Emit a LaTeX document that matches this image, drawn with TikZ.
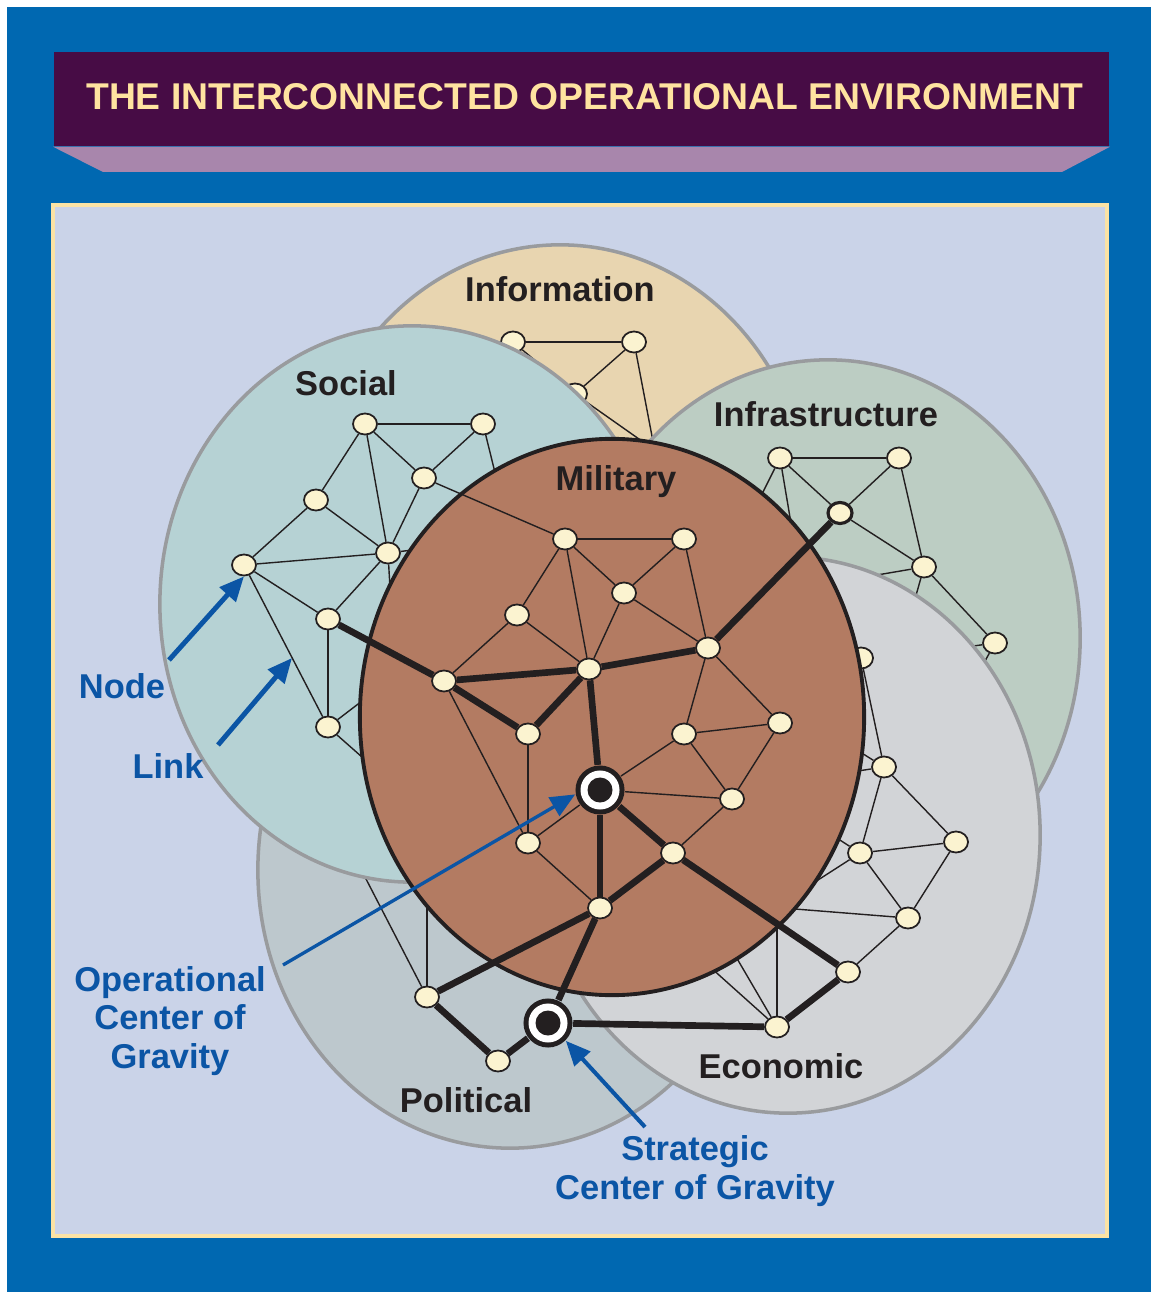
\documentclass[tikz,border=0pt]{standalone}
\usepackage{fontspec}
\setmainfont{Liberation Sans}
\usetikzlibrary{shapes.geometric,arrows.meta}

\definecolor{framebg}{HTML}{0068B1}
\definecolor{titlebg}{HTML}{470C45}
\definecolor{titleshade}{HTML}{A886AC}
\definecolor{titletext}{HTML}{FFE3A0}
\definecolor{panelbg}{HTML}{CAD3E8}
\definecolor{panelrim}{HTML}{FBE3A5}
\definecolor{infofill}{HTML}{E8D5B0}
\definecolor{socialfill}{HTML}{B6D2D4}
\definecolor{infrafill}{HTML}{BCCDC3}
\definecolor{econfill}{HTML}{D2D4D7}
\definecolor{polfill}{HTML}{BDC8CD}
\definecolor{milfill}{HTML}{B37B62}
\definecolor{dotfill}{HTML}{FBF3D0}
\definecolor{rimgray}{HTML}{999B9E}
\definecolor{callout}{HTML}{0B55A5}
\definecolor{inkdark}{HTML}{231F20}

\begin{document}
\begin{tikzpicture}[
        x=0.01cm, y=-0.01cm,
        font=\bfseries,
        realm/.style={ellipse, draw=rimgray, line width=1pt, minimum width=5.04cm, minimum height=5.56cm, inner sep=0pt},
        dot/.style={ellipse, draw=inkdark, line width=0.5pt, fill=dotfill, minimum width=0.24cm, minimum height=0.21cm, inner sep=0pt},
        cog/.style={circle, fill=inkdark, minimum size=0.49cm, inner sep=0pt,
            path picture={\fill[white] (path picture bounding box.center) circle (0.195cm);
                          \fill[inkdark] (path picture bounding box.center) circle (0.125cm);}},
        link/.style={draw=inkdark, line width=0.4pt},
        strong link/.style={draw=inkdark, line width=1.9pt},
        realm label/.style={text=inkdark, font=\bfseries\fontsize{9.8}{11}\selectfont},
        callout label/.style={text=callout, align=center, font=\bfseries\fontsize{9.8}{10.9}\selectfont},
        pointer/.style={draw=callout, line width=1.4pt, -{Triangle[length=7pt,width=6pt]}},
    ]

    \useasboundingbox (0,0) rectangle (1151,1292);

    % Khung nền
    \fill[white] (0,0) rectangle (1151,1292);
    \fill[framebg] (7,7) rectangle (1151,1292);

    % Tiêu đề
    \node[fill=titlebg, minimum width=10.55cm, minimum height=0.94cm, inner sep=0pt] (title) at (581.5,99) {};
    \node[text=titletext, font=\bfseries\fontsize{10.6}{12}\selectfont] (title-text) at (585,97)
          {THE INTERCONNECTED OPERATIONAL ENVIRONMENT};
    \fill[titleshade] (title.south west) -- (title.south east) -- (1062,172) -- (103,172) -- cycle;

    % Bảng nền
    \fill[panelrim] (51,203) rectangle (1109,1238);
    \fill[panelbg] (55,207) rectangle (1105,1234);

    % Lớp Information
    \node[realm, fill=infofill] (info) at (560,523) {};
    \node[realm label] (info-lbl) at (560,289) {Information};
    \foreach \name/\x/\y in {i1/513/342, i2/634/342, i3/575/394}
        \node[dot] (\name) at (\x,\y) {};
    \coordinate (i2-end) at (668,520);
    \coordinate (i3-end) at (700,482);
    \foreach \a/\b in {i1/i2, i2/i3, i1/i3, i2/i2-end, i3/i3-end}
        \draw[link] (\a) -- (\b);

    % Lớp Political
    \node[realm, fill=polfill] (political) at (510,870) {};
    \node[realm label] (political-lbl) at (466,1100) {Political};
    \foreach \name/\x/\y in {p1/427/997, p2/498/1061}
        \node[dot] (\name) at (\x,\y) {};
    \node[cog] (scog) at (548,1023) {};
    \coordinate (p1-up) at (427,860);
    \coordinate (p1-left) at (350,848);
    \foreach \a/\b in {p1/p1-up, p1/p1-left}
        \draw[link] (\a) -- (\b);

    % Lớp Social
    \node[realm, fill=socialfill] (social) at (412,604) {};
    \node[realm label] (social-lbl) at (346,383) {Social};
    \foreach \name/\x/\y in {s1/365/424, s2/483/424, s3/424/478, s4/316/500,
                             s5/388/553, s6/244/565, s7/328/619, s8/328/727}
        \node[dot] (\name) at (\x,\y) {};
    \coordinate (s2-end) at (503,505);
    \coordinate (s5-down) at (393,640);
    \coordinate (s5-right) at (470,543);
    \coordinate (s8-up) at (400,672);
    \coordinate (s8-down) at (405,795);
    \foreach \a/\b in {s1/s2, s1/s3, s1/s4, s1/s5, s2/s3, s3/s5, s4/s5, s4/s6,
                       s5/s6, s5/s7, s6/s7, s6/s8, s7/s8,
                       s2/s2-end, s5/s5-down, s5/s5-right, s8/s8-up, s8/s8-down}
        \draw[link] (\a) -- (\b);

    % Lớp Infrastructure
    \node[realm, fill=infrafill] (infra) at (828,638) {};
    \node[realm label] (infra-lbl) at (826,414) {Infrastructure};
    \foreach \name/\x/\y in {f1/780/458, f2/899/458, f4/924/567, f5/995/643}
        \node[dot] (\name) at (\x,\y) {};
    \node[dot, line width=0.9pt] (f3) at (840,513) {};
    \coordinate (f1-left) at (735,548);
    \coordinate (f1-down) at (798,565);
    \coordinate (f4-left) at (830,583);
    \coordinate (f4-down) at (902,645);
    \coordinate (f5-left) at (930,652);
    \coordinate (f5-down) at (970,688);
    \foreach \a/\b in {f1/f2, f1/f3, f2/f3, f2/f4, f3/f4, f4/f5,
                       f1/f1-left, f1/f1-down, f4/f4-left, f4/f4-down, f5/f5-left, f5/f5-down}
        \draw[link] (\a) -- (\b);

    % Lớp Economic
    \node[realm, fill=econfill] (economic) at (788,835) {};
    \node[realm label] (economic-lbl) at (781,1066) {Economic};
    \foreach \name/\x/\y in {e1/861/658, e2/884/767, e3/956/842, e4/860/853,
                             e5/908/918, e6/848/972, e7/777/1027}
        \node[dot] (\name) at (\x,\y) {};
    \coordinate (e2-left) at (825,776);
    \coordinate (e2-up) at (825,730);
    \coordinate (e4-left) at (790,898);
    \coordinate (e4-up) at (815,824);
    \coordinate (e5-left) at (770,907);
    \coordinate (e7-up) at (777,895);
    \coordinate (e7-mid) at (725,938);
    \coordinate (e7-left) at (700,958);
    \foreach \a/\b in {e1/e2, e2/e3, e2/e4, e3/e4, e3/e5, e4/e5, e5/e6,
                       e2/e2-left, e2/e2-up, e4/e4-left, e4/e4-up, e5/e5-left,
                       e7/e7-up, e7/e7-mid, e7/e7-left}
        \draw[link] (\a) -- (\b);

    % Lớp Military
    \node[realm, draw=inkdark, line width=1.1pt, fill=milfill] (military) at (612,717) {};
    \node[realm label] (military-lbl) at (616,482) {Military};
    \foreach \name/\x/\y in {m1/565/539, m2/684/539, m3/624/593, m4/517/615, m5/708/648,
                             m6/444/681, m7/589/669, m8/528/734, m9/684/734, m10/780/723,
                             m11/732/799, m12/528/843, m13/673/853, m14/600/908}
        \node[dot] (\name) at (\x,\y) {};
    \node[cog] (ocog) at (600,790) {};
    \foreach \a/\b in {m1/m2, m1/m3, m2/m3, m1/m4, m1/m7, m2/m5, m3/m7, m3/m5, m4/m6, m4/m7,
                       m6/m12, m8/m12, m12/ocog, m12/m14, ocog/m9, ocog/m11,
                       m5/m9, m5/m10, m9/m10, m9/m11, m10/m11, m11/m13}
        \draw[link] (\a) -- (\b);

    % Các liên kết chính
    \draw[link] (s3) -- (m1);
    \foreach \a/\b in {s7/m6, m6/m7, m6/m8, m8/m7, m7/m5, m5/f3, m7/ocog,
                       ocog/m13, ocog/m14, m13/m14, m13/e6, m14/p1, m14/scog,
                       p1/p2, p2/scog, scog/e7, e7/e6}
        \draw[strong link] (\a) -- (\b);

    % Chú thích
    \node[callout label] (lbl-node) at (122,686) {Node};
    \node[callout label] (lbl-link) at (168,766) {Link};
    \node[callout label] (lbl-ocog) at (170,1021) {Operational\\Center of\\Gravity};
    \node[callout label] (lbl-scog) at (695,1171) {Strategic\\Center of Gravity};
    \coordinate (node-tail) at (169,660);
    \coordinate (link-tail) at (218,745);
    \coordinate (link-tip) at (292,658);
    \coordinate (ocog-tail) at (283,965);
    \coordinate (scog-tail) at (645,1127);
    \draw[pointer] (node-tail) -- (s6.south);
    \draw[pointer] (link-tail) -- (link-tip);
    \draw[pointer, line width=0.95pt] (ocog-tail) -- (ocog.190);
    \draw[pointer, line width=1.15pt] (scog-tail) -- (scog.315);

\end{tikzpicture}
\end{document}
